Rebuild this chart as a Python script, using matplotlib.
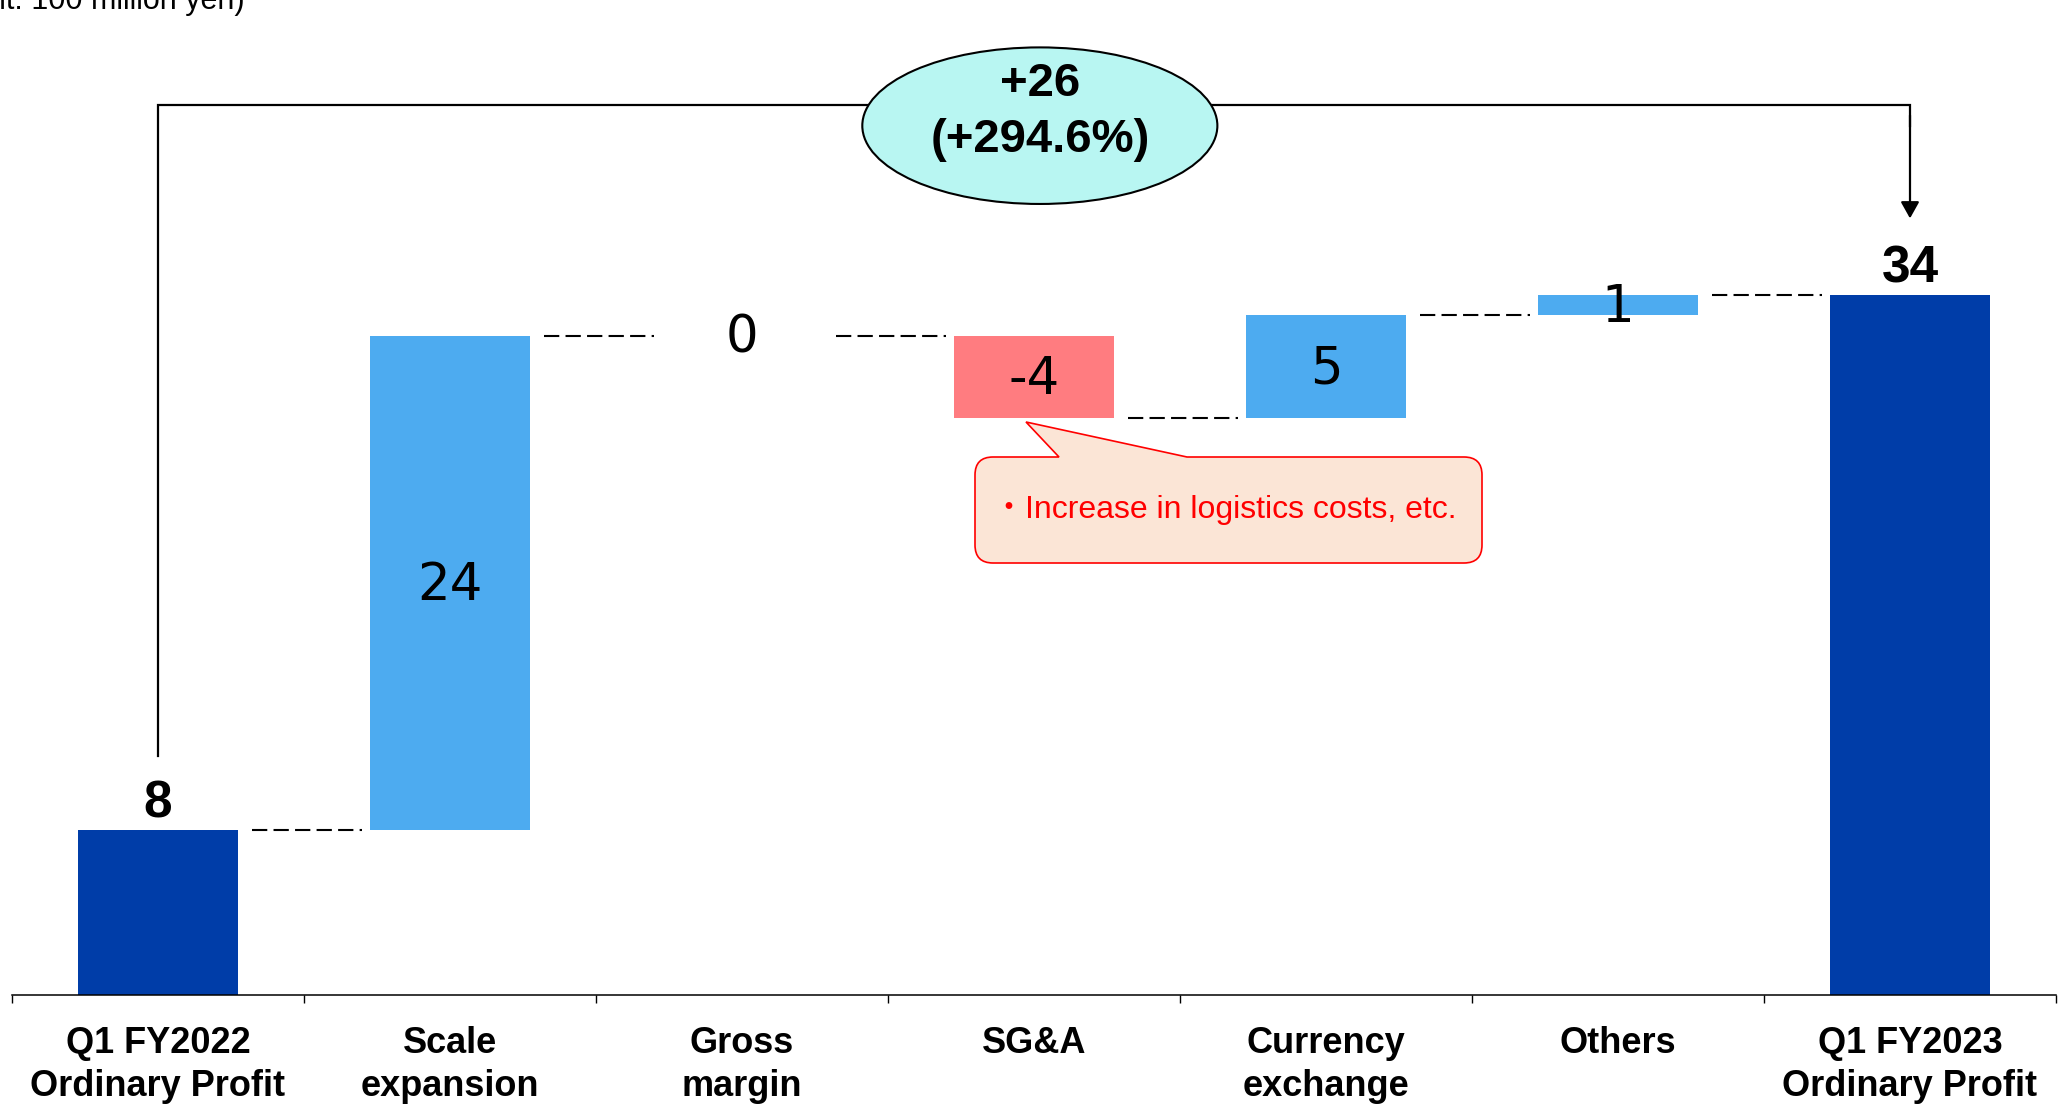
import numpy as np
import matplotlib
matplotlib.use("Agg")
import matplotlib.pyplot as plt
import matplotlib.patches as mpatches
import matplotlib.transforms as mtransforms
from matplotlib.path import Path

plt.rcParams['font.family'] = ['Liberation Sans', 'Noto Sans CJK JP', 'DejaVu Sans']
plt.rcParams['lines.scale_dashes'] = False

# waterfall data (unit: 100 million yen)
categories = ["Q1 FY2022\nOrdinary Profit", "Scale\nexpansion", "Gross\nmargin",
              "SG&A", "Currency\nexchange", "Others", "Q1 FY2023\nOrdinary Profit"]
start_value = 8
changes = [24, 0, -4, 5, 1]
end_value = 34
total_change = "+26"
total_change_pct = "(+294.6%)"
note_text = "・Increase in logistics costs, etc."
unit_text = "(Unit: 100 million yen)"

dark_blue = "#003DA8"
light_blue = "#4DABF0"
neg_red = "#FF7C80"

W, H = 2069, 1107
fig = plt.figure(figsize=(W / 100, H / 100), dpi=100)
ax = fig.add_axes([12 / W, (H - 995) / H, (2056 - 12) / W, 995 / H])
ax.set_xlim(-0.5, 6.5)
ax.set_ylim(0, 995 / 20.6)

# pixel helper, origin top-left
px = mtransforms.Affine2D().scale(1 / W, -1 / H).translate(0, 1) + fig.transFigure

bw = 0.547
x = np.arange(len(categories))

levels = np.concatenate([[start_value], start_value + np.cumsum(changes)])

# totals
ax.bar([0, 6], [start_value, end_value], width=bw, color=dark_blue, zorder=2)
for xi, v in [(0, start_value), (6, end_value)]:
    ax.annotate(str(v), (xi, v), xytext=(0, 9), textcoords='offset points',
                ha='center', va='baseline', fontsize=37, fontweight='bold')

# changes
for i, c in enumerate(changes):
    xi = i + 1
    prev = levels[i]
    if c != 0:
        bottom = prev if c > 0 else prev + c
        ax.bar(xi, abs(c), bottom=bottom, width=bw,
               color=light_blue if c > 0 else neg_red, zorder=2)
        ymid = bottom + abs(c) / 2
    else:
        ymid = prev
    ax.annotate(str(c), (xi, ymid), xytext=(0, -2), textcoords='offset points',
                ha='center', va='center', fontsize=37, family='DejaVu Sans',
                zorder=4)

# dashed connectors between bars
for i in range(len(levels)):
    ax.plot([i + bw / 2 + 0.048, i + 1 - bw / 2 - 0.027], [levels[i], levels[i]],
            color='black', lw=1.5, linestyle=(0, (11, 4.5)), zorder=3)

# bracket with arrow showing total change
top = 43.2
ax.plot([0, 0, 6, 6], [start_value + 3.6, top, top, top - 1],
        color='black', lw=1.6, solid_joinstyle='miter', zorder=3)
ax.annotate('', xy=(6, end_value + 3.7), xytext=(6, top - 0.5),
            arrowprops=dict(arrowstyle='-|>,head_length=0.5,head_width=0.28',
                            lw=1.6, color='black', mutation_scale=20,
                            shrinkA=0, shrinkB=0), zorder=3)
ell = mpatches.Ellipse((3.02, 42.2), width=1.216, height=7.6,
                       facecolor="#B8F6F2", edgecolor='black', lw=1.5, zorder=4)
ax.add_patch(ell)
ax.text(3.02, 44.2, total_change, ha='center', va='center', fontsize=34,
        fontweight='bold', zorder=5)
ax.text(3.02, 41.5, total_change_pct, ha='center', va='center', fontsize=34,
        fontweight='bold', zorder=5)

# callout for SG&A
x0, x1, y0, y1, r = 975, 1482, 457, 563, 18
verts = [(x0 + r, y0), (1059, y0), (1026, 422), (1187, y0), (x1 - r, y0),
         (x1, y0), (x1, y0 + r), (x1, y1 - r), (x1, y1), (x1 - r, y1),
         (x0 + r, y1), (x0, y1), (x0, y1 - r), (x0, y0 + r), (x0, y0),
         (x0 + r, y0), (x0 + r, y0)]
codes = [Path.MOVETO, Path.LINETO, Path.LINETO, Path.LINETO, Path.LINETO,
         Path.CURVE3, Path.CURVE3, Path.LINETO, Path.CURVE3, Path.CURVE3,
         Path.LINETO, Path.CURVE3, Path.CURVE3, Path.LINETO, Path.CURVE3,
         Path.CURVE3, Path.CLOSEPOLY]
callout = mpatches.PathPatch(Path(verts, codes), facecolor="#FBE5D6",
                             edgecolor="#FF0000", lw=1.2, transform=px)
fig.patches.append(callout)
fig.text((x0 + x1) / 2 - 4, (y0 + y1) / 2, note_text, transform=px, ha='center',
         va='center', fontsize=23, color="#FF0000")

fig.text(245, 9, unit_text, transform=px, ha='right', va='baseline', fontsize=22)

# axis styling
for s in ['top', 'left', 'right']:
    ax.spines[s].set_visible(False)
ax.spines['bottom'].set_linewidth(1.1)
ax.set_yticks([])
ax.set_xticks(np.arange(-0.5, 7, 1))
ax.set_xticklabels([])
ax.tick_params(axis='x', which='major', direction='out', length=6, width=1)
ax.set_xticks(x, minor=True)
ax.set_xticklabels(categories, minor=True, fontsize=26, fontweight='bold',
                   linespacing=1.3)
ax.tick_params(axis='x', which='minor', length=0, pad=22)

fig.savefig("out.png", dpi=100)
